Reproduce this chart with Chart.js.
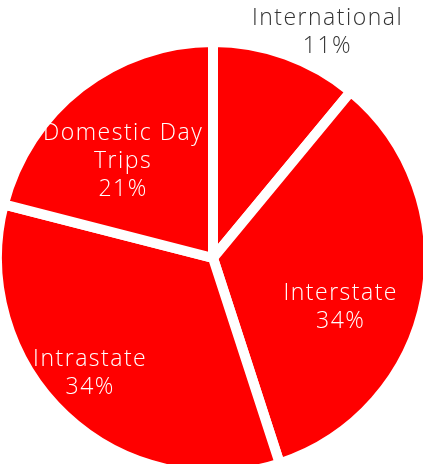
<!DOCTYPE html>
<html>
<head>
<meta charset="utf-8">
<script src="https://cdn.jsdelivr.net/npm/chart.js@4.4.0/dist/chart.umd.min.js"></script>
<style>
  html, body { margin: 0; padding: 0; background: #fff; overflow: hidden; }
  #wrap { width: 423px; height: 464px; }
</style>
</head>
<body>
<div id="wrap"><canvas id="trips" width="423" height="464"></canvas></div>
<script>
  // data, clockwise from 12 o'clock
  const categories = ['International', 'Interstate', 'Intrastate', 'Domestic Day Trips'];
  const shares = [11, 34, 34, 21];
  // how each label is broken into lines
  const labelLines = [['International'], ['Interstate'], ['Intrastate'], ['Domestic Day', 'Trips']];

  const COLORS = {
    slice: '#ff0000',
    border: '#ffffff',
    inside: '#ffffff',
    outside: '#333333',
  };

  // label placement: fraction of radius, angle nudge (deg), outside?
  const labelPos = [
    { r: 1.18, shift: 6.9,  out: true },
    { r: 0.63, shift: 9.4,  out: false },
    { r: 0.775, shift: 4.0, out: false },
    { r: 0.616, shift: -4.7, out: false },
  ];

  const FONT = '300 23px "Open Sans", "Lato", sans-serif';
  const LINE_H = 28;

  const sliceLabels = {
    id: 'sliceLabels',
    afterDatasetsDraw(chart) {
      const ctx = chart.ctx;
      const arcs = chart.getDatasetMeta(0).data;
      ctx.save();
      ctx.font = FONT;
      ctx.letterSpacing = '1.5px';
      ctx.textAlign = 'center';
      ctx.textBaseline = 'middle';
      arcs.forEach((arc, i) => {
        const p = labelPos[i];
        const mid = (arc.startAngle + arc.endAngle) / 2 + p.shift * Math.PI / 180;
        const rr = arc.outerRadius * p.r;
        const x = arc.x + Math.cos(mid) * rr;
        const y = arc.y + Math.sin(mid) * rr + 2;
        const lines = labelLines[i].concat([shares[i] + '%']);
        const top = y - (lines.length - 1) * LINE_H / 2;
        ctx.fillStyle = p.out ? COLORS.outside : COLORS.inside;
        lines.forEach((t, k) => ctx.fillText(t, x, top + k * LINE_H));
      });
      ctx.restore();
    }
  };

  new Chart(document.getElementById('trips'), {
    type: 'pie',
    data: {
      labels: categories,
      datasets: [{
        data: shares,
        backgroundColor: COLORS.slice,
        borderColor: COLORS.border,
        borderWidth: 10,
        clip: false,
      }]
    },
    options: {
      responsive: false,
      animation: false,
      radius: 216,
      layout: { padding: { top: 52, left: 3, right: 0, bottom: 0 } },
      plugins: { legend: { display: false }, tooltip: { enabled: false } },
    },
    plugins: [sliceLabels],
  });
</script>
</body>
</html>
